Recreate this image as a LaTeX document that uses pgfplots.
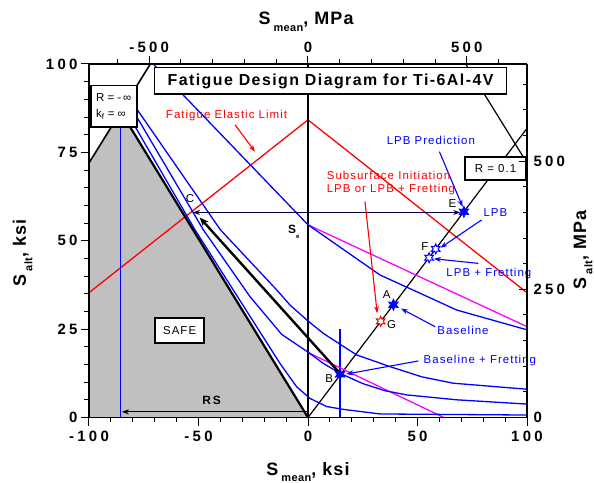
\documentclass[border=0pt]{standalone}
\usepackage{fontspec}
\setmainfont{Liberation Sans}
\usepackage{pgfplots}
\pgfplotsset{compat=1.18}
\usetikzlibrary{arrows.meta}

\definecolor{safegray}{RGB}{192,192,192}
\definecolor{navy}{RGB}{0,0,70}
\definecolor{mblue}{RGB}{0,0,255}
\definecolor{mred}{RGB}{255,0,0}
\definecolor{mmag}{RGB}{255,0,255}

\newcommand{\tickf}{\fontsize{15}{15}\selectfont\bfseries\addfontfeatures{LetterSpace=22}}
\newcommand{\labf}{\fontsize{18}{18}\selectfont\bfseries\addfontfeatures{LetterSpace=6}}
\newcommand{\subf}{\fontsize{11}{11}\selectfont\bfseries\addfontfeatures{LetterSpace=4}}
\newcommand{\annf}{\fontsize{11.5}{14}\selectfont\addfontfeatures{LetterSpace=9}}
\newcommand{\titf}{\fontsize{16}{16}\selectfont\bfseries\addfontfeatures{LetterSpace=9}}

\pgfdeclareplotmark{sixstar}{%
  \pgfpathmoveto{\pgfpointpolar{90}{\pgfplotmarksize}}%
  \pgfpathlineto{\pgfpointpolar{120}{0.5\pgfplotmarksize}}%
  \pgfpathlineto{\pgfpointpolar{150}{\pgfplotmarksize}}%
  \pgfpathlineto{\pgfpointpolar{180}{0.5\pgfplotmarksize}}%
  \pgfpathlineto{\pgfpointpolar{210}{\pgfplotmarksize}}%
  \pgfpathlineto{\pgfpointpolar{240}{0.5\pgfplotmarksize}}%
  \pgfpathlineto{\pgfpointpolar{270}{\pgfplotmarksize}}%
  \pgfpathlineto{\pgfpointpolar{300}{0.5\pgfplotmarksize}}%
  \pgfpathlineto{\pgfpointpolar{330}{\pgfplotmarksize}}%
  \pgfpathlineto{\pgfpointpolar{0}{0.5\pgfplotmarksize}}%
  \pgfpathlineto{\pgfpointpolar{30}{\pgfplotmarksize}}%
  \pgfpathlineto{\pgfpointpolar{60}{0.5\pgfplotmarksize}}%
  \pgfpathclose
  \pgfusepathqfillstroke
}

\tikzset{arr/.style={-{Stealth[length=7bp,width=5bp]}}}

\begin{document}
\begin{tikzpicture}
\begin{axis}[
  at={(0,0)}, anchor=south west,
  width=438bp, height=353.5bp, scale only axis,
  xmin=-100, xmax=100, ymin=0, ymax=100,
  axis x line*=bottom, axis y line*=left,
  xtick={-100,-50,0,50,100}, minor xtick={-90,-80,...,90},
  ytick={0,25,50,75,100}, minor ytick={5,10,...,95},
  tick align=outside,
  major tick length=8bp, minor tick length=4.5bp,
  every tick/.style={black, line width=1bp},
  axis line style={line width=1.6bp},
  clip=false, axis on top,
  /pgf/number format/assume math mode=true,
  tick label style={font=\tickf},
  xticklabel style={yshift=-2bp},
]
% safe region
\addplot[fill=safegray, draw=none] coordinates {(-100,0) (-100,72) (-85.5,86.5) (0,0)} -- cycle;

% fatigue elastic limit
\addplot[mred, line width=1.3bp] coordinates {(-100,35.3) (0,84.2) (100,35.3)};

% boundary lines
\addplot[black, line width=1.6bp] coordinates {(-100,72) (-72,100)};
\addplot[black, line width=1.2bp] coordinates {(72,100) (100,72)};
\addplot[black, line width=1.1bp] coordinates {(0,0) (0,100)};
\addplot[black, line width=1.2bp] coordinates {(0,0) (100,81.8)};

% blue verticals
\addplot[mblue, line width=1.3bp] coordinates {(-85.5,0) (-85.5,88)};
\addplot[mblue, line width=1.3bp] coordinates {(14.6,0) (14.6,25)};

% magenta goodman lines
\addplot[mmag, line width=1.3bp] coordinates {(0,54.5) (100,25.7)};
\addplot[mmag, line width=1.3bp] coordinates {(0,18.4) (62,0)};

% blue curves
\addplot[mblue, line width=1.3bp] coordinates {(-70.6,100) (0,54.5) (10,50.2) (32.9,40.3) (51,35.2) (67.9,30.4) (100,24.8)};
\addplot[mblue, line width=1.3bp] coordinates {(-79,88) (-40,53.1) (-14.3,36.1) (-8.2,31.8) (0,27.3) (7,23.8) (22.2,17.7) (37.4,14.4) (52,11.5) (66.3,9.7) (100,8.0)};
\addplot[mblue, line width=1.3bp] coordinates {(-81,88) (-47.8,53.1) (-26.5,34.2) (-12,23.5) (0,18.5) (7,15.3) (14.6,12.5) (25,9.6) (35,7.6) (45,6.4) (68,5.0) (100,3.8)};
\addplot[mblue, line width=1.3bp] coordinates {(-84.3,88) (-51.6,53.1) (-12.8,15.3) (-5.2,8.7) (0.9,5.4) (8.5,3.1) (16.1,2.3) (32.9,1.0) (100,0.7)};

% black thick line
\addplot[black, line width=2.2bp] coordinates {(-85.5,86.5) (0,0)};
% thick arrow B -> C
\addplot[black, line width=2.4bp, -{Stealth[length=9bp,width=7bp]}] coordinates {(14.6,12.5) (-49.5,56.6)};
% C <-> E
\addplot[navy, line width=1.9bp, {Stealth[length=7bp,width=5bp]}-{Stealth[length=7bp,width=5bp]}] coordinates {(-52.5,58) (69.5,58)};
% RS arrow
\addplot[black, line width=1.3bp, arr] coordinates {(0,1.6) (-85,1.6)};

% annotation arrows
\addplot[mred, line width=1.1bp, arr] coordinates {(-33.3,82.8) (-24.2,75.2)};
\addplot[mred, line width=1.1bp, arr] coordinates {(26,61.1) (31.6,29.5)};
\addplot[mblue, line width=1.1bp, arr] coordinates {(60,75.2) (70.6,59.6)};
\addplot[mblue, line width=1.1bp, arr] coordinates {(79.3,55.9) (60.5,48)};
\addplot[mblue, line width=1.1bp, arr] coordinates {(77.8,43.6) (57.5,44.9)};
\addplot[mblue, line width=1.1bp, arr] coordinates {(58,25.7) (42.5,30.8)};
\addplot[mblue, line width=1.1bp, arr] coordinates {(50.4,16) (17.5,12.3)};

% stars
\addplot[only marks, mark=sixstar, mark size=5.5bp, mblue, mark options={fill=mblue, line width=0.8bp}] coordinates {(39,31.9) (14.6,12.2) (71.2,58.2)};
\addplot[only marks, mark=sixstar, mark size=5bp, mblue, mark options={fill=white, line width=1bp}] coordinates {(58.3,47.7) (55.3,45.2)};
\addplot[only marks, mark=sixstar, mark size=5bp, mred, mark options={fill=white, line width=1bp}] coordinates {(33.2,27.2)};

% boxes
\node[draw=black, line width=1.6bp, fill=white, minimum width=352bp, minimum height=26.6bp, inner sep=0pt, font=\titf] at (axis cs:10.3,95.2) {Fatigue Design Diagram for Ti-6Al-4V};
\node[draw=black, line width=1.6bp, fill=white, minimum width=46bp, minimum height=41.6bp, inner sep=0pt, align=left, font=\fontsize{11.5}{16}\selectfont] at (axis cs:-88.7,88.0) {R = -\,∞\\k\textsubscript{f} = ∞};
\node[draw=black, line width=1.6bp, fill=white, minimum width=61bp, minimum height=23bp, inner sep=0pt, font=\annf] at (axis cs:85.6,70.5) {R = 0.1};
\node[draw=black, line width=1.6bp, fill=white, minimum width=49bp, minimum height=24.5bp, inner sep=0pt, font=\annf] at (axis cs:-58.6,24.6) {SAFE};

% texts
\node[text=mred, font=\annf] at (axis cs:-37.2,85.3) {Fatigue Elastic Limit};
\node[text=mred, font=\annf, anchor=west] at (axis cs:7.0,68.6) {Subsurface Initiation};
\node[text=mred, font=\annf, anchor=west] at (axis cs:7.0,64.4) {LPB or LPB + Fretting};
\node[text=mblue, font=\annf] at (axis cs:56.1,78.5) {LPB Prediction};
\node[text=mblue, font=\annf] at (axis cs:85.6,57.9) {LPB};
\node[text=mblue, font=\annf] at (axis cs:82.6,40.8) {LPB + Fretting};
\node[text=mblue, font=\annf] at (axis cs:70.8,24.5) {Baseline};
\node[text=mblue, font=\annf] at (axis cs:78.5,16.0) {Baseline + Fretting};
\node[font=\annf] at (axis cs:35.9,34.7) {A};
\node[font=\annf] at (axis cs:9.7,10.9) {B};
\node[font=\annf] at (axis cs:65.9,60.4) {E};
\node[font=\annf] at (axis cs:53.4,48.3) {F};
\node[font=\annf] at (axis cs:38.2,26.4) {G};
\node[font=\annf] at (axis cs:-53.9,61.8) {C};
\node[font=\fontsize{12}{12}\selectfont\bfseries\addfontfeatures{LetterSpace=15}] at (axis cs:-44,4.8) {RS};
\node[font=\fontsize{12}{12}\selectfont\bfseries] at (axis cs:-6.5,52.5) {S\raisebox{-0.35em}{\fontsize{6}{6}\selectfont e}};

% axis labels
\node[yshift=-57.5bp, anchor=base, font=\labf] at (axis cs:0,0) {S\,\raisebox{-0.35em}{\subf mean}, ksi};
\node[yshift=39bp, anchor=base, font=\labf] at (axis cs:-0.9,100) {S\,\raisebox{-0.35em}{\subf mean}, MPa};
\node[xshift=-63bp, anchor=base, rotate=90, font=\labf] at (axis cs:-100,46.6) {S\,\raisebox{-0.35em}{\subf alt}, ksi};
\node[xshift=59bp, anchor=base, rotate=90, font=\labf] at (axis cs:100,47.4) {S\,\raisebox{-0.35em}{\subf alt}, MPa};
\end{axis}

% top MPa axis
\begin{axis}[
  at={(0,0)}, anchor=south west,
  width=438bp, height=353.5bp, scale only axis,
  xmin=-689.48, xmax=689.48, ymin=0, ymax=1,
  axis x line*=top, hide y axis,
  xtick={-500,0,500}, minor xtick={-600,-500,...,600},
  tick align=outside,
  major tick length=8bp, minor tick length=4.5bp,
  every tick/.style={black, line width=1bp},
  axis line style={line width=1.6bp},
  /pgf/number format/assume math mode=true,
  tick label style={font=\tickf},
]
\end{axis}

% right MPa axis
\begin{axis}[
  at={(0,0)}, anchor=south west,
  width=438bp, height=353.5bp, scale only axis,
  xmin=0, xmax=1, ymin=0, ymax=689.48,
  axis y line*=right, hide x axis,
  ytick={0,250,500}, minor ytick={50,100,...,650},
  tick align=inside,
  major tick length=8bp, minor tick length=4.5bp,
  every tick/.style={black, line width=1bp},
  axis line style={line width=1.6bp},
  /pgf/number format/assume math mode=true,
  tick label style={font=\tickf},
  yticklabel style={xshift=3bp},
]
\end{axis}

\pgfresetboundingbox
\path[use as bounding box] (-89bp,-65.5bp) rectangle (505bp,417.5bp);
\end{tikzpicture}
\end{document}
